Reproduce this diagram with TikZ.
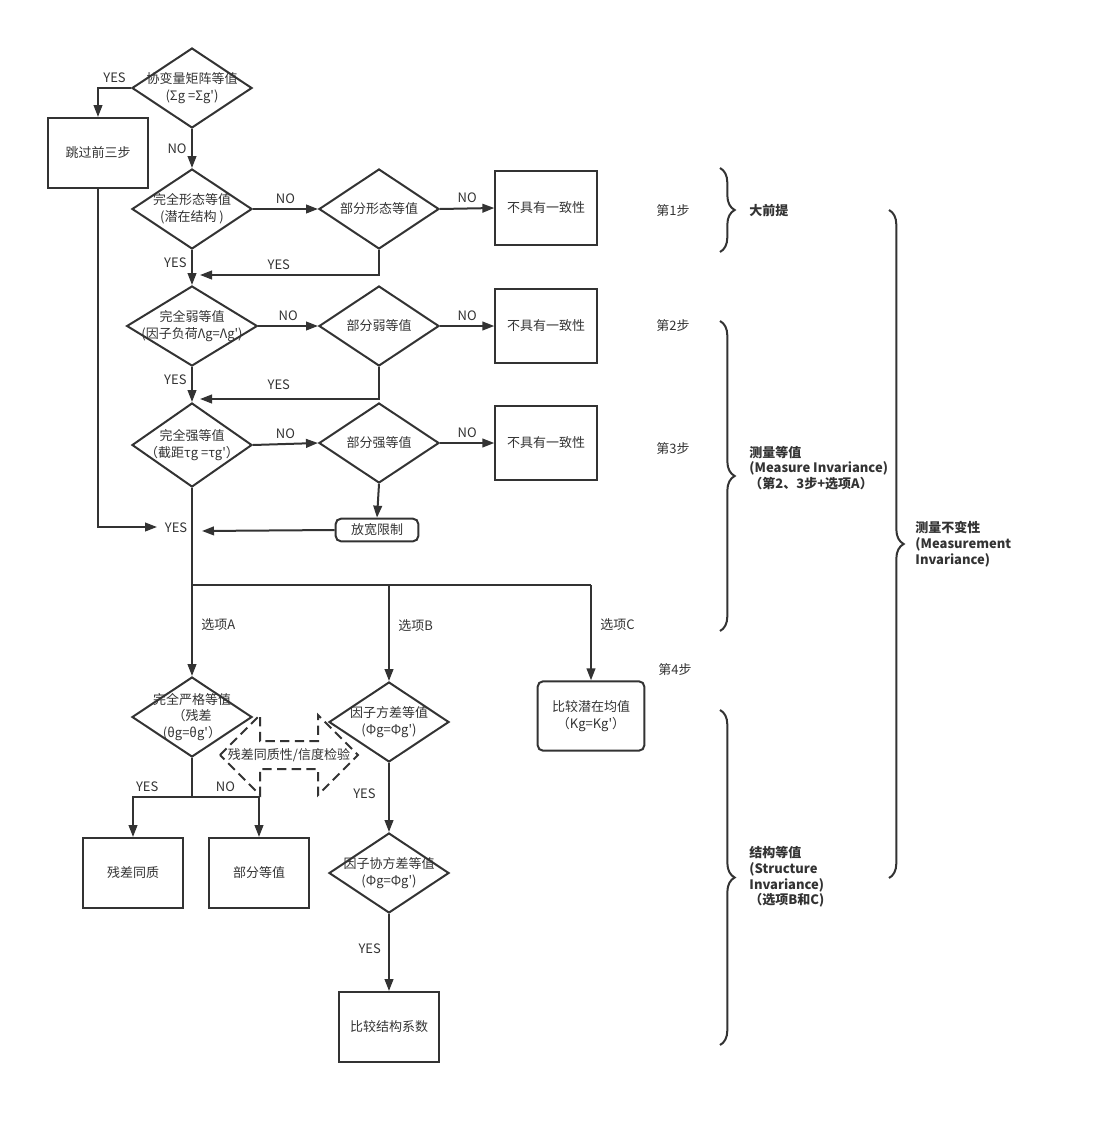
\documentclass[tikz,border=0pt]{standalone}
\usepackage{fontspec}
\newfontfamily\zh{Noto Sans CJK SC}
\usetikzlibrary{shapes.geometric,arrows.meta,decorations.pathreplacing}
\definecolor{ink}{HTML}{333333}

\tikzset{
  dia/.style={draw,diamond,aspect=1.5,inner sep=0pt,minimum width=90pt,minimum height=60pt},
  box/.style={draw,rectangle,minimum width=75pt,minimum height=52.5pt},
  nobox/.style={box,minimum width=76pt,minimum height=56pt},
  arr/.style={-{Triangle[length=9pt,width=6.5pt]}},
  brace/.style={decorate,decoration={brace,amplitude=11pt}},
  grp/.style={font=\zh\bfseries\fontsize{9.75}{11.8}\selectfont,align=left,anchor=west},
}

\begin{document}
\begin{tikzpicture}[x=.75pt,y=-.75pt,line width=1.5pt,draw=ink,text=ink,font=\zh\fontsize{9.75}{12.5}\selectfont]
\useasboundingbox (0,0) rectangle (1114,1124);
% decisions and boxes
\node[dia,label={[align=center]center:{协变量矩阵等值\\(Σg =Σg')}}] (cov) at (192,88) {};
\node[box] (skip) at (98,153) {跳过前三步};
\node[dia,label={[align=center]center:{完全形态等值\\(潜在结构 )}}] (cfg) at (192,209) {};
\node[dia] (pcfg) at (379,209) {部分形态等值};
\node[nobox] (no1) at (546,208) {不具有一致性};
\node[dia,minimum width=98pt,label={[align=center]center:{完全弱等值\\(因子负荷Λg=Λg')}}] (weak) at (192,326) {};
\node[dia] (pweak) at (379,326) {部分弱等值};
\node[nobox] (no2) at (546,326) {不具有一致性};
\node[dia,minimum height=63pt,label={[align=center]center:{完全强等值\\（截距τg =τg'）}}] (strong) at (192,445) {};
\node[dia] (pstrong) at (379,443) {部分强等值};
\node[nobox] (no3) at (546,443) {不具有一致性};
\node[draw,rounded corners=4pt,minimum width=62pt,minimum height=17pt] (relax) at (377,530) {放宽限制};
\node (yesj) at (176,528) {YES};
\coordinate (m1) at (200,275);
\coordinate (m2) at (200,399);
\coordinate (m3) at (202,531);
\coordinate (yin) at (157,527);
\coordinate (jn) at (192,585);
\coordinate (jB) at (389,585);
\coordinate (jC) at (591,585);
\coordinate (j4) at (192,797);
\node[dia,label={[align=center]center:{完全严格等值\\（残差\\(θg=θg'）}}] (strict) at (192,717) {};
\node[dia,label={[align=center]center:{因子方差等值\\(Φg=Φg')}}] (fvar) at (389,722) {};
\node[box,rounded corners=4pt,minimum width=80pt,minimum height=52pt,align=center] (mean) at (591,716) {比较潜在均值\\（Kg=Kg'）};
\node (homo) at (289,755) {残差同质性/信度检验};
\node[box] (resid) at (133,873) {残差同质};
\node[box] (part) at (259,873) {部分等值};
\node[dia,label={[align=center]center:{因子协方差等值\\(Φg=Φg')}}] (fcov) at (389,873) {};
\node[box] (coef) at (389,1027) {比较结构系数};

% connectors
\draw[arr] (cov.west) -| (skip.north) node[pos=.25,above] {YES};
\draw[arr] (cov.south) -- (cfg.north) node[midway,left] {NO};
\draw[arr] (cfg.east) -- (pcfg.west) node[midway,above] {NO};
\draw[arr] (pcfg.east) -- (no1.west) node[midway,above] {NO};
\draw[arr] (cfg.south) -- (weak.north) node[pos=.35,left] {YES};
\draw[arr] (pcfg.south) |- (m1) node[pos=.78,above] {YES};
\draw[arr] (weak.east) -- (pweak.west) node[midway,above] {NO};
\draw[arr] (pweak.east) -- (no2.west) node[midway,above] {NO};
\draw[arr] (weak.south) -- (strong.north) node[pos=.35,left] {YES};
\draw[arr] (pweak.south) |- (m2) node[pos=.78,above=3pt] {YES};
\draw[arr] (strong.east) -- (pstrong.west) node[midway,above] {NO};
\draw[arr] (pstrong.east) -- (no3.west) node[midway,above] {NO};
\draw[arr] (pstrong.south) -- (relax.north);
\draw[arr] (relax.west) -- (m3);
\draw[arr] (skip.south) |- (yin);
\draw (strong.south) -- (jn) -- (jC);
\draw[arr] (jn) -- (strict.north) node[pos=.44,right=3pt] {选项A};
\draw[arr] (jB) -- (fvar.north) node[pos=.42,right=3pt] {选项B};
\draw[arr] (jC) -- (mean.north) node[pos=.42,right=3pt] {选项C};
\draw (strict.south) -- (j4);
\draw[arr] (j4) -| (resid.north) node[pos=.38,above] {YES};
\draw[arr] (j4) -| (part.north) node[pos=.25,above] {NO};
\draw[arr] (fvar.south) -- (fcov.north) node[pos=.45,left=6pt] {YES};
\draw[arr] (fcov.south) -- (coef.north) node[pos=.45,left=2pt] {YES};
\draw[dashed,dash pattern=on 7pt off 4pt] (homo.center) ++(-69,0) -- ++(40,-40) -- ++(0,26) -- ++(58,0) -- ++(0,-26)
  -- ++(40,40) -- ++(-40,40) -- ++(0,-26) -- ++(-58,0) -- ++(0,26) -- cycle;

% steps and groups
\node (s1) at (673,211) {第1步};
\node (s2) at (673,326) {第2步};
\node (s3) at (673,449) {第3步};
\node (s4) at (675,670) {第4步};
\draw[brace] (720,168) -- (720,252);
\node[grp] (pre) at (744,211) {大前提};
\draw[brace] (720,321) -- (720,631);
\node[grp] (meas) at (744,468) {测量等值\\(Measure Invariance)\\（第2、3步+选项A）};
\draw[brace] (889,210) -- (889,878);
\node[grp] (minv) at (910,544) {测量不变性\\(Measurement\\Invariance)};
\draw[brace] (720,710) -- (720,1045);
\node[grp] (struct) at (744,877) {结构等值\\(Structure\\Invariance)\\（选项B和C)};
\end{tikzpicture}
\end{document}
